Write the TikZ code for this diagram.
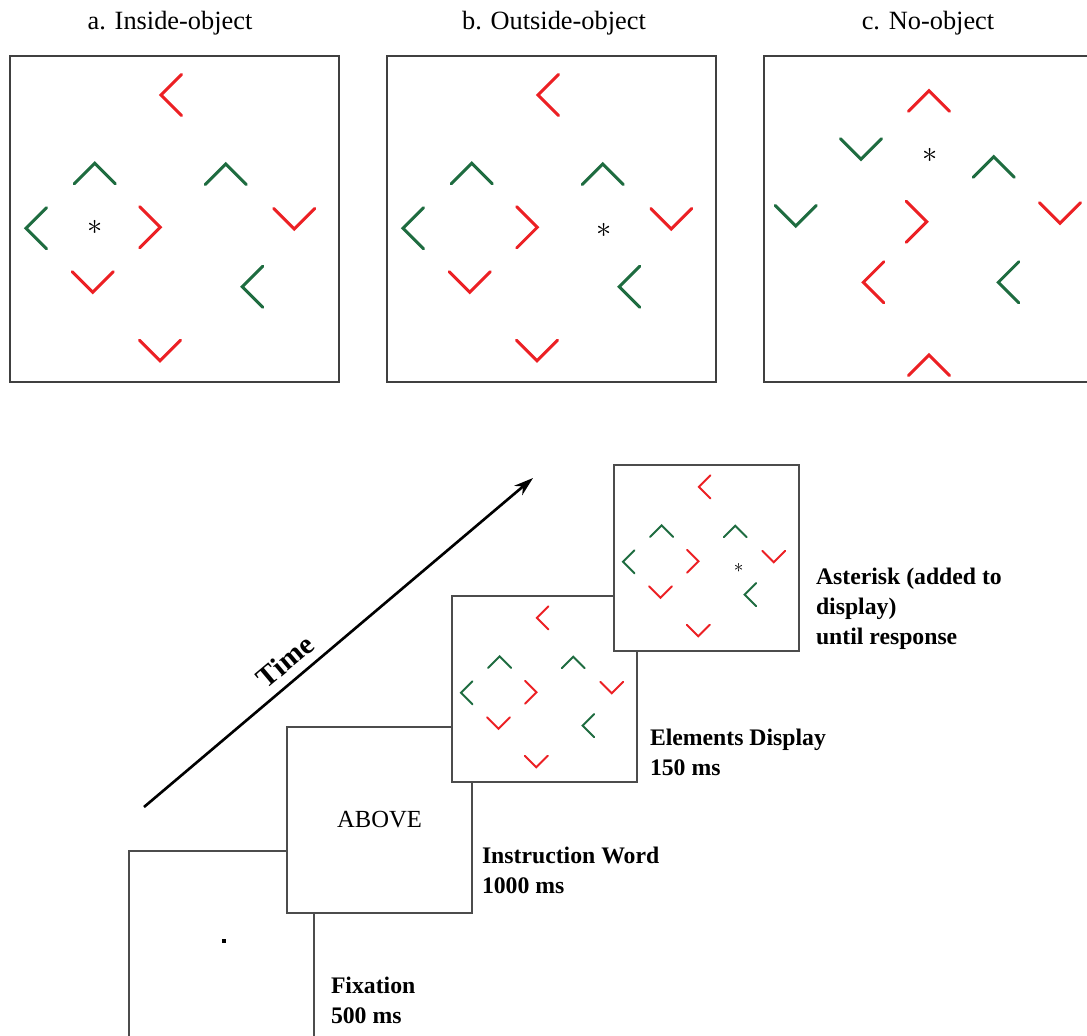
\documentclass[tikz,border=0pt]{standalone}
\usepackage{fontspec}
\setmainfont{Liberation Serif}
\usetikzlibrary{arrows.meta}
\definecolor{elred}{RGB}{236,32,36}
\definecolor{elgreen}{RGB}{30,108,64}
% one chevron: apex x, apex y, opening direction, colour
\newcommand{\chev}[4]{\draw[#4] (#1,#2) ++({#3+45}:29) -- (#1,#2) -- ++({#3-45}:29);}
% the elements shared by the object displays
\newcommand{\objitems}{%
\chev{151}{39}{0}{elred}
\chev{84.7}{107.3}{90}{elgreen}
\chev{215.7}{108}{90}{elgreen}
\chev{16}{172.3}{0}{elgreen}
\chev{150.3}{171.3}{180}{elred}
\chev{284.3}{173}{270}{elred}
\chev{82.7}{236.3}{270}{elred}
\chev{232.3}{230.7}{0}{elgreen}
\chev{150}{304.7}{270}{elred}}
\begin{document}
\begin{tikzpicture}[x=0.02cm,y=-0.02cm,inner sep=0pt,outer sep=0pt,
panel/.style={draw=black!75,line width=1.1pt,fill=white,anchor=north west,minimum width=6.58cm,minimum height=6.52cm},
screen/.style={draw=black!70,line width=0.8pt,fill=white,anchor=north west,minimum width=3.7cm,minimum height=3.72cm},
bigchev/.style={line width=1.7pt,line cap=round},
smallchev/.style={line width=1.1pt,line cap=round},
title/.style={font=\fontsize{15}{18}\selectfont,anchor=base},
phase/.style={font=\bfseries\fontsize{13.5}{17}\selectfont,align=left,anchor=base west}]
\clip (0,0) rectangle (1087,1035);
% conditions
\node[title] (ta) at (170,29) {a. Inside-object};
\node[title] (tb) at (554,29) {b. Outside-object};
\node[title] (tc) at (928,29) {c. No-object};
\node[panel] (pa) at (10,56) {};
\node[panel] (pb) at (387,56) {};
\node[panel] (pc) at (764,56) {};
\begin{scope}[shift={(pa.north west)},bigchev]
\objitems
\node[font=\fontsize{17}{17}\selectfont] (aa) at (85,171) {$\ast$};
\end{scope}
\begin{scope}[shift={(pb.north west)},bigchev]
\objitems
\node[font=\fontsize{17}{17}\selectfont] (ab) at (217,174) {$\ast$};
\end{scope}
\begin{scope}[shift={(pc.north west)},bigchev]
\chev{165}{34.7}{90}{elred}
\chev{97}{103.3}{270}{elgreen}
\chev{229.7}{100.7}{90}{elgreen}
\chev{31.7}{170}{270}{elgreen}
\chev{162.7}{165.7}{180}{elred}
\chev{296}{167.3}{270}{elred}
\chev{99.3}{226.3}{0}{elred}
\chev{234.3}{226.3}{0}{elgreen}
\chev{165}{299}{90}{elred}
\node[font=\fontsize{17}{17}\selectfont] (ac) at (166,99) {$\ast$};
\end{scope}
% trial sequence
\coordinate (t0) at (144,807);
\coordinate (t1) at (533,478);
\draw[line width=1.5pt,-{Stealth[length=11pt,width=7pt]}] (t0) -- (t1);
\node[font=\bfseries\fontsize{16.5}{16.5}\selectfont,rotate=40] (time) at (285,661) {Time};
\node[screen] (fix) at (129,851) {};
\node[fill,minimum size=0.08cm] (dot) at (224,941) {};
\node[screen] (word) at (287,727) {};
\node[font=\fontsize{14}{14}\selectfont] (above) at (word.center) {ABOVE};
\node[screen] (elem) at (452,596) {};
\node[screen] (ast) at (614,465) {};
\begin{scope}[shift={(elem.north west)},scale=0.562,smallchev]
\objitems
\end{scope}
\begin{scope}[shift={(ast.north west)},scale=0.562,smallchev]
\objitems
\node[font=\fontsize{11}{11}\selectfont] (as) at (222,183) {$\ast$};
\end{scope}
\node[phase] (lfix) at (331,1023) {Fixation\\500 ms};
\node[phase] (lword) at (482,893) {Instruction Word\\1000 ms};
\node[phase] (lelem) at (650,775) {Elements Display\\150 ms};
\node[phase] (last) at (816,644) {Asterisk (added to\\display)\\until response};
\end{tikzpicture}
\end{document}
